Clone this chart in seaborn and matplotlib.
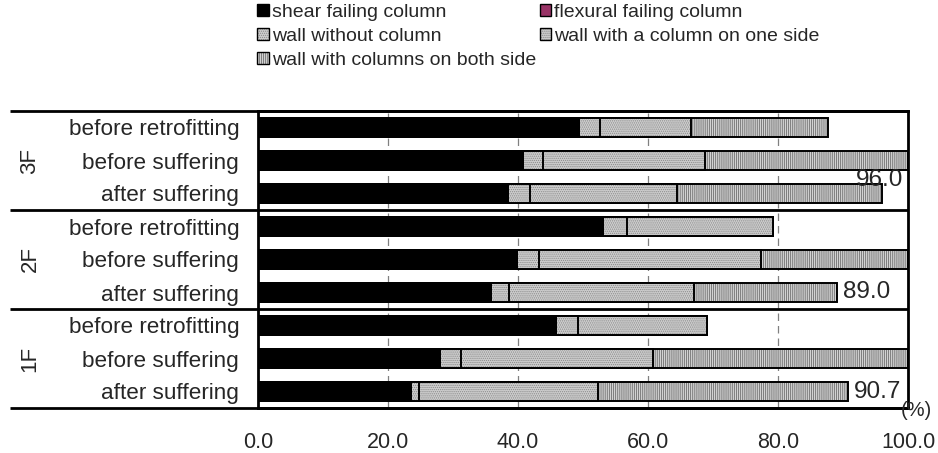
import numpy as np
import pandas as pd
import matplotlib
matplotlib.use("Agg")
import matplotlib.pyplot as plt
import matplotlib.transforms as mtransforms
from matplotlib.patches import Patch
import seaborn as sns

# ---- data -------------------------------------------------------------
floors = ["3F", "2F", "1F"]
stages = ["before retrofitting", "before suffering", "after suffering"]
categories = [
    "shear failing column",
    "flexural failing column",
    "wall without column",
    "wall with a column on one side",
    "wall with columns on both side",
]

# one value per row: 3F (3 stages), 2F (3 stages), 1F (3 stages), in %
shear = [49.4, 40.7, 38.4, 53.0, 39.9, 35.9, 45.9, 28.0, 23.5]
flexural = [0.0, 0.0, 0.0, 0.0, 0.0, 0.0, 0.0, 0.0, 0.0]
wall_none = [3.2, 3.2, 3.4, 3.7, 3.4, 2.7, 3.4, 3.2, 1.3]
wall_one = [14.0, 24.8, 22.6, 22.6, 34.1, 28.4, 19.7, 29.6, 27.5]
wall_both = [21.1, 31.3, 31.6, 0.0, 22.6, 22.0, 0.0, 39.2, 38.4]

x_ticks = [0, 20, 40, 60, 80, 100]
x_tick_labels = ["0.0", "20.0", "40.0", "60.0", "80.0", "100.0"]

# ---- style --------------------------------------------------------------
sns.set_style("white")
plt.rcParams["font.family"] = ["Liberation Sans", "DejaVu Sans"]
plt.rcParams["hatch.linewidth"] = 0.6

seg_styles = [
    dict(face="#000000", hatch=None, hcol="#000000"),
    dict(face="#993366", hatch=None, hcol="#993366"),
    dict(face="#cdcdcd", hatch="........", hcol="#8a8a8a"),
    dict(face="#cdcdcd", hatch="........", hcol="#8a8a8a"),
    dict(face="#d2d2d2", hatch="||||||||", hcol="#6e6e6e"),
]

row_keys = [f"{f}|{s}" for f in floors for s in stages]
segments = [shear, flexural, wall_none, wall_one, wall_both]
df = pd.DataFrame({"row": row_keys})
running = np.zeros(len(row_keys))
for k, seg in enumerate(segments):
    running = running + np.array(seg)
    df[f"cum{k}"] = running

W, H = 938, 453
fig = plt.figure(figsize=(W / 100, H / 100), dpi=100)
ax = fig.add_axes([258 / W, 1 - 408 / H, 650 / W, 297 / H])

bar_h = 0.55
# stacked bars drawn as overlapping cumulative bars, longest first
for k in range(len(segments) - 1, -1, -1):
    st = seg_styles[k]
    sns.barplot(data=df, x=f"cum{k}", y="row", order=row_keys, orient="y",
                color=st["face"], saturation=1, hatch=st["hatch"],
                edgecolor=st["hcol"], linewidth=0, width=bar_h,
                errorbar=None, ax=ax)
    sns.barplot(data=df, x=f"cum{k}", y="row", order=row_keys, orient="y",
                color=st["face"], saturation=1, facecolor="none",
                edgecolor="black", linewidth=1.4, width=bar_h,
                errorbar=None, ax=ax)

ax.set_xlim(0, 100)
ax.set_ylim(8.5, -0.5)
ax.set_xlabel("")
ax.set_ylabel("")

# grid
ax.set_axisbelow(True)
ax.xaxis.grid(True, color="#808080", linestyle=(0, (6, 4)), linewidth=0.9)
ax.yaxis.grid(False)

ax.set_xticks(x_ticks)
ax.set_xticklabels(x_tick_labels, fontsize=15.5)
ax.tick_params(axis="x", length=0, pad=17)
ax.set_yticks(range(len(row_keys)))
ax.set_yticklabels(stages * len(floors), fontsize=16.2)
ax.tick_params(axis="y", length=0, pad=13.5)

for side in ["left", "right", "top", "bottom"]:
    ax.spines[side].set_visible(True)
    ax.spines[side].set_color("black")
    ax.spines[side].set_linewidth(2)

# frame lines spanning the label column and floor separators
trans = mtransforms.blended_transform_factory(ax.transAxes, ax.transData)
x_left = (10 - 258) / 650
for yy in [-0.5, 2.5, 5.5, 8.5]:
    ax.plot([x_left, 1], [yy, yy], transform=trans, color="black", lw=2,
            clip_on=False, solid_capstyle="butt")

# floor labels
for i, f in enumerate(floors):
    ax.text((30 - 258) / 650, 3 * i + 1, f, rotation=90, ha="center",
            va="center", transform=trans, fontsize=16)

# total labels on the "after suffering" rows
totals = df[f"cum{len(segments) - 1}"].to_numpy()
for i, s in enumerate(stages * len(floors)):
    if s != "after suffering":
        continue
    t = totals[i]
    if t > 93:
        ax.text(99.2, i - 0.41, f"{t:.1f}", ha="right", va="center",
                fontsize=17.5)
    else:
        ax.text(t + 1.0, i, f"{t:.1f}", ha="left", va="center", fontsize=17.5)

fig.text(916 / W, 1 - 411 / H, "(%)", ha="center", va="center", fontsize=14.5)

# legend
handles = []
for st in seg_styles:
    fill = Patch(facecolor=st["face"], hatch=st["hatch"], edgecolor=st["hcol"],
                 linewidth=0)
    edge = Patch(facecolor="none", edgecolor="black", linewidth=1.0)
    handles.append((fill, edge))
order = [0, 2, 4, 1, 3]
fig.legend([handles[i] for i in order], [categories[i] for i in order],
           loc="upper left", bbox_to_anchor=(257 / W, 1 - 4 / H), ncol=2,
           frameon=False, fontsize=14, handlelength=0.6, handleheight=0.6,
           handletextpad=0.15, labelspacing=0.36, columnspacing=0.2,
           borderpad=0, borderaxespad=0)

fig.savefig("out.png", dpi=100)
